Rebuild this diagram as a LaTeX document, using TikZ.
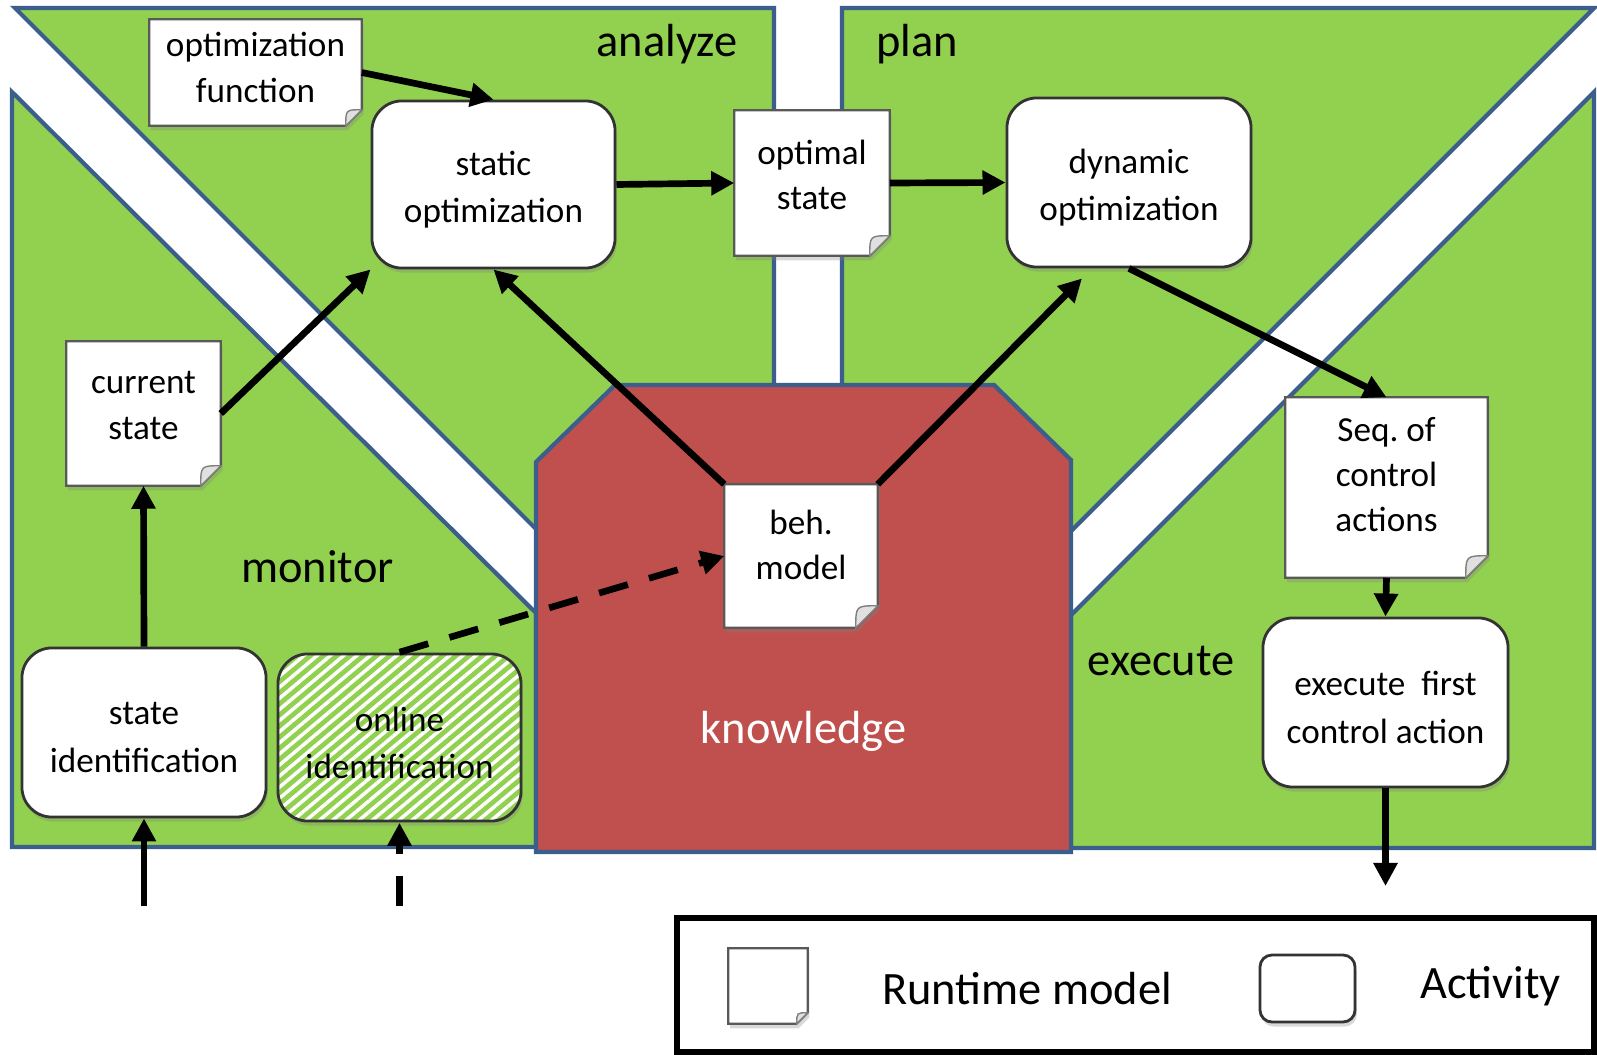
\documentclass[tikz,border=0pt]{standalone}
\usepackage{fontspec}
\setmainfont{Carlito}
\usetikzlibrary{arrows.meta, calc, shadows, patterns.meta}
\definecolor{mapegreen}{HTML}{92D050}
\definecolor{knowred}{HTML}{C0504D}
\definecolor{edgeblue}{HTML}{3B5E8C}
\pgfdeclarelayer{regions}
\pgfdeclarelayer{paper}
\pgfsetlayers{regions,paper,main}

\begin{document}
\begin{tikzpicture}[
    x=0.01cm, y=-0.01cm,
    region/.style={fill=mapegreen, draw=edgeblue, line width=1.2pt},
    phase/.style={font=\fontsize{13.2}{15}\selectfont},
    shade/.style={drop shadow={shadow xshift=0.5pt, shadow yshift=-1.3pt, opacity=0.3}},
    lift/.style={execute at end node={\endgraf\vspace{#1}}},
    lift/.default=0.16cm,
    activity/.style={draw=black!80, line width=0.8pt, fill=white, rounded corners=0.3cm,
                     align=flush center, text width=2.2cm, inner sep=0.1cm,
                     font=\fontsize{10}{13.4}\selectfont, shade, lift=-0.1cm},
    hatched/.style={preaction={fill=mapegreen},
                    pattern={Lines[angle=40, distance=0.085cm, line width=0.035cm]},
                    pattern color=white},
    rtmodel/.style={align=flush center, text width=1.4cm, inner sep=0pt,
                    font=\fontsize{10}{12.9}\selectfont, lift},
    paper/.style={fill=white, draw=black!65, line width=0.6pt, shade},
    fold/.style={fill=black!12, draw=black!50, line width=0.4pt},
    flow/.style={-{Triangle[length=0.23cm, width=0.23cm]}, line width=1.9pt},
    idflow/.style={flow, dash pattern=on 0.3cm off 0.22cm},
    keyframe/.style={draw=black, line width=1.5pt},
]
    \useasboundingbox (0,0) rectangle (1597,1055);

    % MAPE-K areas
    \begin{pgfonlayer}{regions}
        \draw[region] (15,8) -- (774,8) -- (774,529) -- (536,529) -- cycle;
        \draw[region] (842,8) -- (1594,8) -- (1071,531) -- (842,531) -- cycle;
        \draw[region] (12,92) -- (536,613) -- (536,847) -- (12,847) -- cycle;
        \draw[region] (1594,92) -- (1594,848) -- (1071,848) -- (1071,615) -- cycle;
        \draw[region, fill=knowred] (615,385) -- (994,385) -- (1071,460) -- (1071,852)
            -- (536,852) -- (536,462) -- cycle;
    \end{pgfonlayer}

    \node[phase, anchor=base] (lanalyze) at (667,57) {analyze};
    \node[phase, anchor=base] (lplan) at (917,57) {plan};
    \node[phase, anchor=base] (lmonitor) at (317.5,582) {monitor};
    \node[phase, anchor=base] (lexecute) at (1161,675) {execute};
    \node[phase, anchor=base, text=white] (lknowledge) at (803.5,743) {knowledge};

    % Runtime models
    \node[rtmodel, text width=1.95cm, minimum width=2.11cm, minimum height=1.05cm, lift=-0.06cm]
        (optfun) at (255.5,72.5) {optimization\\function};
    \node[rtmodel, minimum width=1.54cm, minimum height=1.44cm] (optstate) at (812,183) {optimal\\state};
    \node[rtmodel, minimum width=1.53cm, minimum height=1.43cm] (curstate) at (143.5,413.5) {current\\state};
    \node[rtmodel, minimum width=1.52cm, minimum height=1.42cm, lift=0.06cm] (beh) at (801,556) {beh.\\model};
    \node[rtmodel, minimum width=2.01cm, minimum height=1.79cm, lift=0.1cm] (seqact) at (1386.5,487.5) {Seq.\ of\\control\\actions};

    % Activities
    \node[activity, minimum width=2.43cm, minimum height=1.67cm] (static) at (493.5,184.5) {static\\optimization};
    \node[activity, minimum width=2.44cm, minimum height=1.69cm] (dynamic) at (1129,182.5) {dynamic\\optimization};
    \node[activity, minimum width=2.45cm, minimum height=1.69cm] (exec) at (1385.5,702.5) {execute\ \ first\\control action};
    \node[activity, minimum width=2.44cm, minimum height=1.69cm] (stateid) at (144,732.5) {state\\identification};
    \node[activity, hatched, minimum width=2.43cm, minimum height=1.67cm] (onlineid) at (399.5,737.5) {online\\identification};

    % Legend
    \draw[keyframe] (677,918) rectangle (1594,1052);
    \node[rtmodel, text width=0.5cm, minimum width=0.78cm, minimum height=0.74cm, lift=0pt] (keydoc) at (768,986) {};
    \node[activity, text width=0.5cm, minimum width=0.95cm, minimum height=0.67cm, rounded corners=0.12cm] (keyact) at (1307.5,988.5) {};
    \node[phase, anchor=base] (keydoctext) at (1027,1004) {Runtime model};
    \node[phase, anchor=base] (keyacttext) at (1490.5,998) {Activity};

    % sheets behind the runtime models
    \begin{pgfonlayer}{paper}
        \foreach \doc/\ear in {optfun/16, optstate/20, curstate/20, beh/22, seqact/22, keydoc/11} {
            \draw[paper] (\doc.north west) -- (\doc.north east) -- ($(\doc.south east)+(0,-\ear)$)
                -- ($(\doc.south east)+(-\ear,0)$) -- (\doc.south west) -- cycle;
            \filldraw[fold] ($(\doc.south east)+(0,-\ear)$) .. controls ($(\doc.south east)+(-\ear,-\ear)$)
                .. ($(\doc.south east)+(-\ear,0)$) -- cycle;
        }
    \end{pgfonlayer}

    % free ends
    \coordinate (in1) at (144,906);
    \coordinate (in2) at (399.5,906);
    \coordinate (out) at (1385.5,886);

    % Connections
    \draw[flow] (optfun.east) -- (static.north);
    \draw[flow] (curstate.east) -- (static.south west);
    \draw[flow] (static.east) -- (optstate.west);
    \draw[flow] (optstate.east) -- (dynamic.west);
    \draw[flow] (beh.north west) -- (static.south);
    \draw[flow] (beh.north east) -- ([xshift=-0.47cm, yshift=-0.1cm]dynamic.south);
    \draw[flow] (dynamic.south) -- (seqact.north);
    \draw[flow] (seqact.south) -- (exec.north);
    \draw[flow] (exec.south) -- (out);
    \draw[flow] (stateid.north) -- (curstate.south);
    \draw[flow] (in1) -- (stateid.south);
    \draw[idflow] (in2) -- (onlineid.south);
    \draw[idflow] (onlineid.north) -- (beh.west);
\end{tikzpicture}
\end{document}
